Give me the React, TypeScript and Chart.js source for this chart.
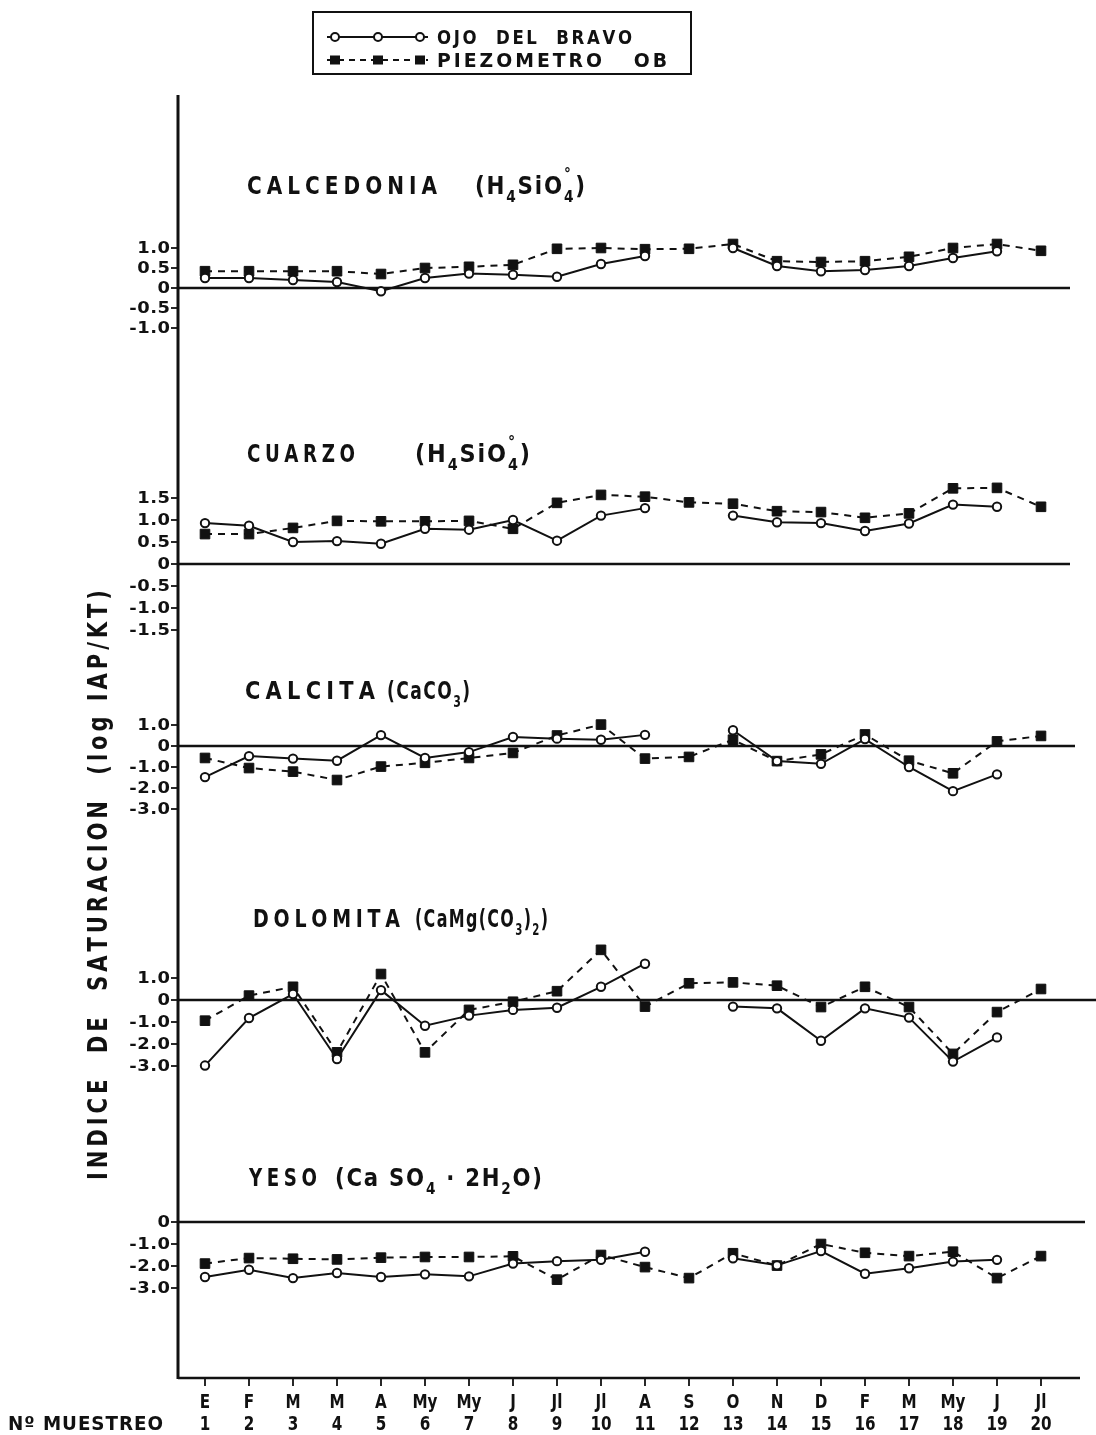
import React, { useEffect, useRef } from "react";
import { Chart, registerables } from "chart.js";

Chart.register(...registerables);

// ---------------- DATA ----------------
const monthLabels = ["E", "F", "M", "M", "A", "My", "My", "J", "Jl", "Jl", "A", "S", "O", "N", "D", "F", "M", "My", "J", "Jl"];
const sampleNumbers = [1, 2, 3, 4, 5, 6, 7, 8, 9, 10, 11, 12, 13, 14, 15, 16, 17, 18, 19, 20];
const seriesNames = ["OJO  DEL  BRAVO", "PIEZOMETRO   OB"];

const calcedoniaOjo = [0.25, 0.25, 0.2, 0.15, -0.08, 0.25, 0.36, 0.33, 0.28, 0.6, 0.8, null, 1.0, 0.55, 0.42, 0.45, 0.55, 0.75, 0.92, null];
const calcedoniaPiezo = [0.42, 0.42, 0.42, 0.42, 0.35, 0.5, 0.53, 0.58, 0.98, 1.0, 0.97, 0.98, 1.1, 0.67, 0.65, 0.67, 0.78, 1.0, 1.1, 0.93];
const cuarzoOjo = [0.93, 0.87, 0.5, 0.52, 0.46, 0.8, 0.78, 1.0, 0.53, 1.1, 1.27, null, 1.1, 0.95, 0.93, 0.75, 0.92, 1.35, 1.3, null];
const cuarzoPiezo = [0.68, 0.68, 0.82, 0.98, 0.97, 0.97, 0.98, 0.8, 1.39, 1.57, 1.53, 1.4, 1.37, 1.2, 1.18, 1.05, 1.15, 1.72, 1.73, 1.3];
const calcitaOjo = [-1.48, -0.48, -0.6, -0.7, 0.52, -0.57, -0.29, 0.43, 0.35, 0.3, 0.53, null, 0.75, -0.72, -0.85, 0.33, -1.0, -2.15, -1.35, null];
const calcitaPiezo = [-0.57, -1.05, -1.22, -1.62, -0.98, -0.8, -0.57, -0.33, 0.5, 1.02, -0.6, -0.52, 0.3, -0.72, -0.4, 0.55, -0.7, -1.3, 0.22, 0.48];
const dolomitaOjo = [-2.98, -0.82, 0.27, -2.68, 0.45, -1.17, -0.71, -0.45, -0.35, 0.6, 1.65, null, -0.3, -0.38, -1.85, -0.38, -0.8, -2.8, -1.7, null];
const dolomitaPiezo = [-0.94, 0.2, 0.6, -2.38, 1.18, -2.38, -0.45, -0.08, 0.4, 2.28, -0.3, 0.76, 0.8, 0.65, -0.32, 0.6, -0.32, -2.45, -0.55, 0.5];
const yesoOjo = [-2.5, -2.17, -2.55, -2.32, -2.5, -2.38, -2.47, -1.89, -1.78, -1.72, -1.35, null, -1.65, -1.97, -1.32, -2.35, -2.1, -1.8, -1.72, null];
const yesoPiezo = [-1.89, -1.64, -1.67, -1.7, -1.62, -1.59, -1.59, -1.56, -2.62, -1.5, -2.05, -2.55, -1.42, -1.98, -1.0, -1.4, -1.55, -1.35, -2.55, -1.55];

const calcedoniaTicks = [1.0, 0.5, 0, -0.5, -1.0];
const cuarzoTicks = [1.5, 1.0, 0.5, 0, -0.5, -1.0, -1.5];
const calcitaTicks = [1.0, 0, -1.0, -2.0, -3.0];
const dolomitaTicks = [1.0, 0, -1.0, -2.0, -3.0];
const yesoTicks = [0, -1.0, -2.0, -3.0];

const yAxisTitle = "INDICE  DE  SATURACION  (log IAP/KT)";
const xAxisTitle = "Nº MUESTREO";

// ---------------- LAYOUT ----------------
const W = 1096;
const H = 1435;
const AREA = { left: 178, top: 95, right: 1080, bottom: 1378 };
const FIRST_PX = 205;
const STEP_PX = 44;
const X_MIN = 1 - (FIRST_PX - AREA.left) / STEP_PX;
const X_MAX = X_MIN + (AREA.right - AREA.left) / STEP_PX;
const FONT = '"DejaVu Sans", sans-serif';
const INK = "#111";

type Seg = { t: string; k?: "sub" | "sup"; over?: boolean };

const panels = [
  {
    id: "yCalcedonia", ojo: calcedoniaOjo, piezo: calcedoniaPiezo, ticks: calcedoniaTicks,
    zeroPx: 288, unitPx: 40, zeroEndPx: 1070,
    title: { x: 247, y: 194, main: "CALCEDONIA", mainW: 190, parenX: 475, parenW: 110,
      paren: [{ t: "(H" }, { t: "4", k: "sub" }, { t: "SiO" }, { t: "4", k: "sub" }, { t: "°", k: "sup", over: true }, { t: ")" }] as Seg[] },
  },
  {
    id: "yCuarzo", ojo: cuarzoOjo, piezo: cuarzoPiezo, ticks: cuarzoTicks,
    zeroPx: 564, unitPx: 44, zeroEndPx: 1070,
    title: { x: 247, y: 462, main: "CUARZO", mainW: 108, parenX: 415, parenW: 115,
      paren: [{ t: "(H" }, { t: "4", k: "sub" }, { t: "SiO" }, { t: "4", k: "sub" }, { t: "°", k: "sup", over: true }, { t: ")" }] as Seg[] },
  },
  {
    id: "yCalcita", ojo: calcitaOjo, piezo: calcitaPiezo, ticks: calcitaTicks,
    zeroPx: 746, unitPx: 21, zeroEndPx: 1075,
    title: { x: 245, y: 699, main: "CALCITA", mainW: 130, parenX: 387, parenW: 83,
      paren: [{ t: "(CaCO" }, { t: "3", k: "sub" }, { t: ")" }] as Seg[] },
  },
  {
    id: "yDolomita", ojo: dolomitaOjo, piezo: dolomitaPiezo, ticks: dolomitaTicks,
    zeroPx: 1000, unitPx: 22, zeroEndPx: 1096,
    title: { x: 253, y: 927, main: "DOLOMITA", mainW: 147, parenX: 415, parenW: 133,
      paren: [{ t: "(CaMg(CO" }, { t: "3", k: "sub" }, { t: ")" }, { t: "2", k: "sub" }, { t: ")" }] as Seg[] },
  },
  {
    id: "yYeso", ojo: yesoOjo, piezo: yesoPiezo, ticks: yesoTicks,
    zeroPx: 1222, unitPx: 22, zeroEndPx: 1085,
    title: { x: 249, y: 1186, main: "YESO", mainW: 68, parenX: 335, parenW: 207,
      paren: [{ t: "(Ca SO" }, { t: "4", k: "sub" }, { t: " · 2H" }, { t: "2", k: "sub" }, { t: "O)" }] as Seg[] },
  },
];

function drawSegs(
  ctx: CanvasRenderingContext2D,
  segs: Seg[],
  x: number,
  y: number,
  opts: { size: number; spacing?: number; width?: number; scaleX?: number; align?: "left" | "center" | "right" }
) {
  const size = opts.size;
  const spacing = opts.spacing ?? 0;
  const items: { ch: string; x: number; dy: number; fs: number }[] = [];
  let cx = 0;
  let prevStart = 0;
  for (const s of segs) {
    const fs = s.k ? size * 0.64 : size;
    const dy = s.k === "sub" ? size * 0.32 : s.k === "sup" ? -size * 0.62 : 0;
    ctx.font = `bold ${fs}px ${FONT}`;
    const start = s.over ? prevStart : cx;
    let sx = start;
    for (const ch of s.t) {
      const w = ctx.measureText(ch).width;
      items.push({ ch, x: sx, dy, fs });
      sx += w + spacing;
    }
    if (!s.over) {
      prevStart = start;
      cx = sx;
    }
  }
  const total = cx - spacing;
  const scale = opts.width ? opts.width / total : opts.scaleX ?? 1;
  const w = total * scale;
  const align = opts.align ?? "left";
  const ox = align === "left" ? x : align === "center" ? x - w / 2 : x - w;
  ctx.save();
  ctx.translate(ox, y);
  ctx.scale(scale, 1);
  ctx.textAlign = "left";
  for (const it of items) {
    ctx.font = `bold ${it.fs}px ${FONT}`;
    ctx.fillText(it.ch, it.x, it.dy);
  }
  ctx.restore();
}

const paperPlugin = {
  id: "paperPlugin",
  beforeDatasetsDraw(chart: any) {
    const ctx: CanvasRenderingContext2D = chart.ctx;
    const ca = chart.chartArea;
    const xs = chart.scales.x;
    ctx.save();
    ctx.strokeStyle = INK;
    ctx.fillStyle = INK;
    ctx.lineCap = "butt";
    // y axis
    ctx.lineWidth = 3;
    ctx.beginPath();
    ctx.moveTo(ca.left, ca.top);
    ctx.lineTo(ca.left, ca.bottom + 1);
    ctx.stroke();
    // x axis
    ctx.lineWidth = 2.5;
    ctx.beginPath();
    ctx.moveTo(ca.left, ca.bottom);
    ctx.lineTo(ca.right, ca.bottom);
    ctx.stroke();
    ctx.lineWidth = 1.8;
    sampleNumbers.forEach((n) => {
      const px = xs.getPixelForValue(n);
      ctx.beginPath();
      ctx.moveTo(px, ca.bottom);
      ctx.lineTo(px, ca.bottom + 8);
      ctx.stroke();
    });
    // panels: zero lines + y ticks
    panels.forEach((p) => {
      const ys = chart.scales[p.id];
      const y0 = ys.getPixelForValue(0);
      ctx.lineWidth = 2.5;
      ctx.beginPath();
      ctx.moveTo(ca.left, y0);
      ctx.lineTo(p.zeroEndPx, y0);
      ctx.stroke();
      ctx.lineWidth = 1.8;
      ctx.textBaseline = "middle";
      p.ticks.forEach((v) => {
        const py = ys.getPixelForValue(v);
        ctx.beginPath();
        ctx.moveTo(ca.left - 7, py);
        ctx.lineTo(ca.left, py);
        ctx.stroke();
        const label = v === 0 ? "0" : v.toFixed(1);
        drawSegs(ctx, [{ t: label }], ca.left - 8, py + 1, { size: 16, spacing: 0.5, scaleX: 1.12, align: "right" });
      });
    });
    ctx.restore();
  },
  afterDatasetsDraw(chart: any) {
    const ctx: CanvasRenderingContext2D = chart.ctx;
    const ca = chart.chartArea;
    const xs = chart.scales.x;
    ctx.save();
    ctx.fillStyle = INK;
    ctx.strokeStyle = INK;
    ctx.textBaseline = "alphabetic";
    // panel titles
    panels.forEach((p) => {
      const t = p.title;
      drawSegs(ctx, [{ t: t.main }], t.x, t.y, { size: 24, spacing: 6, width: t.mainW });
      drawSegs(ctx, t.paren, t.parenX, t.y, { size: 24, spacing: 2, width: t.parenW });
    });
    // x labels
    sampleNumbers.forEach((n, i) => {
      const px = xs.getPixelForValue(n);
      drawSegs(ctx, [{ t: monthLabels[i] }], px, ca.bottom + 30, { size: 19, scaleX: 0.8, align: "center" });
      drawSegs(ctx, [{ t: String(n) }], px, ca.bottom + 52, { size: 19, scaleX: 0.8, align: "center" });
    });
    drawSegs(ctx, [{ t: xAxisTitle }], 8, ca.bottom + 52, { size: 19, spacing: 1, width: 155 });
    // y axis title
    ctx.save();
    ctx.translate(100, 885);
    ctx.rotate(-Math.PI / 2);
    ctx.textBaseline = "middle";
    drawSegs(ctx, [{ t: yAxisTitle }], 0, 0, { size: 27, spacing: 5, width: 590, align: "center" });
    ctx.restore();
    // legend
    ctx.lineWidth = 2;
    ctx.strokeRect(313, 12, 378, 62);
    const rows = [37, 60];
    const mk = [335, 378, 420];
    ctx.lineWidth = 2;
    ctx.setLineDash([]);
    ctx.beginPath();
    ctx.moveTo(327, rows[0]);
    ctx.lineTo(428, rows[0]);
    ctx.stroke();
    mk.forEach((mx) => {
      ctx.beginPath();
      ctx.arc(mx, rows[0], 4, 0, Math.PI * 2);
      ctx.fillStyle = "#fff";
      ctx.fill();
      ctx.stroke();
    });
    ctx.fillStyle = INK;
    ctx.setLineDash([6, 5]);
    ctx.beginPath();
    ctx.moveTo(327, rows[1]);
    ctx.lineTo(428, rows[1]);
    ctx.stroke();
    ctx.setLineDash([]);
    mk.forEach((mx) => {
      ctx.fillRect(mx - 5, rows[1] - 4.5, 10, 9);
    });
    ctx.textBaseline = "alphabetic";
    drawSegs(ctx, [{ t: seriesNames[0] }], 437, 44, { size: 19, spacing: 3, width: 195 });
    drawSegs(ctx, [{ t: seriesNames[1] }], 437, 67, { size: 19, spacing: 3, width: 230 });
    ctx.restore();
  },
};

export default function App() {
  const ref = useRef<HTMLCanvasElement | null>(null);

  useEffect(() => {
    if (!ref.current) return;
    const datasets: any[] = [];
    panels.forEach((p) => {
      datasets.push({
        label: seriesNames[0],
        data: p.ojo.map((v, i) => ({ x: sampleNumbers[i], y: v })),
        xAxisID: "x",
        yAxisID: p.id,
        borderColor: INK,
        borderWidth: 2,
        pointStyle: "circle",
        pointRadius: 4.2,
        pointBackgroundColor: "#fff",
        pointBorderColor: INK,
        pointBorderWidth: 2,
        spanGaps: false,
        tension: 0,
        order: 0,
      });
      datasets.push({
        label: seriesNames[1],
        data: p.piezo.map((v, i) => ({ x: sampleNumbers[i], y: v })),
        xAxisID: "x",
        yAxisID: p.id,
        borderColor: INK,
        borderWidth: 2,
        borderDash: [7, 6],
        pointStyle: "rect",
        pointRadius: 6.8,
        pointBackgroundColor: INK,
        pointBorderColor: INK,
        pointBorderWidth: 1,
        spanGaps: false,
        tension: 0,
        order: 1,
      });
    });
    const scales: any = {
      x: { type: "linear", display: false, min: X_MIN, max: X_MAX },
    };
    panels.forEach((p) => {
      scales[p.id] = {
        type: "linear",
        display: false,
        position: "left",
        min: -(AREA.bottom - p.zeroPx) / p.unitPx,
        max: (p.zeroPx - AREA.top) / p.unitPx,
      };
    });
    const chart = new Chart(ref.current, {
      type: "line",
      data: { datasets },
      options: {
        animation: false,
        responsive: false,
        devicePixelRatio: 1,
        events: [],
        layout: {
          padding: { left: AREA.left, top: AREA.top, right: W - AREA.right, bottom: H - AREA.bottom },
        },
        plugins: { legend: { display: false }, tooltip: { enabled: false } },
        scales,
      } as any,
      plugins: [paperPlugin],
    });
    return () => chart.destroy();
  }, []);

  return (
    <div style={{ position: "absolute", left: 0, top: 0, width: W, height: H, background: "#fff" }}>
      <canvas ref={ref} width={W} height={H} style={{ display: "block" }} />
    </div>
  );
}
